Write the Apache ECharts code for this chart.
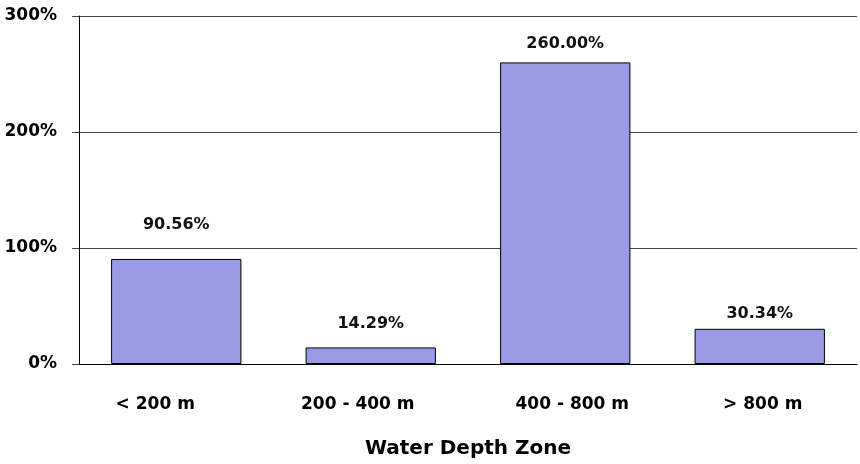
<!DOCTYPE html>
<html>
<head>
<meta charset="utf-8">
<script src="https://cdn.jsdelivr.net/npm/echarts@6/dist/echarts.min.js"></script>
<style>
html,body{margin:0;padding:0;background:#fff;}
#chart{width:860px;height:464px;}
</style>
</head>
<body>
<div id="chart"></div>
<script>
var categories = ['< 200 m', '200 - 400 m', '400 - 800 m', '> 800 m'];
var values = [90.56, 14.29, 260.00, 30.34];
var labelGaps = [26, 16, 11, 7];
var categoryLabelShift = [-21, -13, 7, 3];
var yTicks = [0, 100, 200, 300];
var axisTitle = 'Water Depth Zone';

var FONT = '"DejaVu Sans", sans-serif';
var chart = echarts.init(document.getElementById('chart'), null, {renderer: 'canvas'});
var seriesData = values.map(function (v, i) {
  return { value: v, label: { distance: labelGaps[i] } };
});
var richStyles = {};
categoryLabelShift.forEach(function (s, i) {
  richStyles['c' + i] = {
    color: '#000', fontFamily: FONT, fontWeight: 'bold', fontSize: 17,
    padding: s < 0 ? [0, -2 * s, 0, 0] : [0, 0, 0, 2 * s]
  };
});
chart.setOption({
  animation: false,
  backgroundColor: '#ffffff',
  grid: { left: 79, right: 3, top: 16, bottom: 100, containLabel: false },
  xAxis: {
    type: 'category',
    data: categories,
    axisLine: { show: true, lineStyle: { color: '#000', width: 1 } },
    axisTick: { show: false },
    axisLabel: {
      margin: 32, color: '#000', fontFamily: FONT, fontWeight: 'bold', fontSize: 17, interval: 0,
      formatter: function (v, i) { return '{c' + i + '|' + v + '}'; },
      rich: richStyles
    },
    name: axisTitle,
    nameLocation: 'middle',
    nameGap: 75,
    nameTextStyle: { color: '#000', fontFamily: FONT, fontWeight: 'bold', fontSize: 20 }
  },
  yAxis: {
    type: 'value',
    min: yTicks[0],
    max: yTicks[yTicks.length - 1],
    interval: yTicks[1] - yTicks[0],
    axisLine: { show: true, lineStyle: { color: '#000', width: 1 } },
    axisTick: { show: true, length: 7, lineStyle: { color: '#444' } },
    axisLabel: {
      margin: 22, color: '#000', fontFamily: FONT, fontWeight: 'bold', fontSize: 17,
      formatter: function (v) { return v + '%'; }
    },
    splitLine: { show: true, lineStyle: { color: '#444', width: 1 } }
  },
  series: [{
    type: 'bar',
    data: seriesData,
    barWidth: '67%',
    itemStyle: { color: '#9a9ae6', borderColor: '#000', borderWidth: 1 },
    label: {
      show: true,
      position: 'top',
      color: '#111',
      fontFamily: FONT,
      fontWeight: 'bold',
      fontSize: 16,
      formatter: function (p) { return p.value.toFixed(2) + '%'; }
    }
  }]
});
</script>
</body>
</html>
